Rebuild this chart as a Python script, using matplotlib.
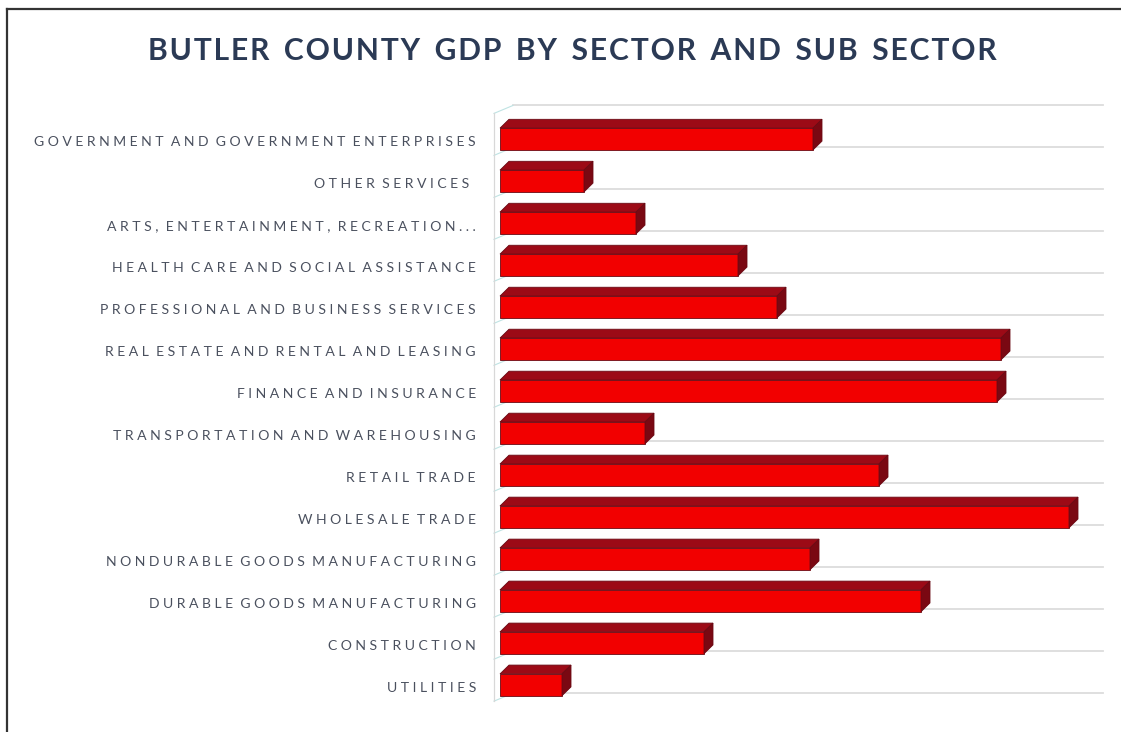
import matplotlib.pyplot as plt
from matplotlib.patches import Rectangle, Polygon
from matplotlib.lines import Line2D

# sectors listed top to bottom as in the chart
sectors = [
    "GOVERNMENT AND GOVERNMENT ENTERPRISES",
    "OTHER SERVICES ",
    "ARTS, ENTERTAINMENT, RECREATION...",
    "HEALTH CARE AND SOCIAL ASSISTANCE",
    "PROFESSIONAL AND BUSINESS SERVICES",
    "REAL ESTATE AND RENTAL AND LEASING",
    "FINANCE AND INSURANCE",
    "TRANSPORTATION AND WAREHOUSING",
    "RETAIL TRADE",
    "WHOLESALE TRADE",
    "NONDURABLE GOODS MANUFACTURING",
    "DURABLE GOODS MANUFACTURING",
    "CONSTRUCTION",
    "UTILITIES",
]
# relative GDP (no axis scale shown on the chart)
gdp = [313, 84, 136, 238, 277, 501, 497, 145, 379, 569, 310, 421, 204, 62]

TITLE = "BUTLER COUNTY GDP BY SECTOR AND SUB SECTOR"

FRONT = "#f20000"
TOP = "#9c0a16"
SIDE = "#7a0812"
EDGE = "#6a0a14"
DX, DY = 9, 0.21   # depth of the 3D look (x data units, y data units)
H = 0.52


def spaced(s, sep="\u2009", word=" "):
    # fake letter spacing: matplotlib has none
    return word.join(sep.join(w) for w in s.split(" "))


fig = plt.figure(figsize=(11.21, 7.32), dpi=100)
ax = fig.add_axes([490 / 1121, 1 - 710 / 732, 620 / 1121, 610 / 732])
ax.set_xlim(-10, 610)
ax.set_ylim(-0.6, 13.93)
ax.axis('off')

n = len(sectors)

# back-wall gridlines and floor edges
for k in range(n + 1):
    y = k - 0.2
    ax.plot([DX + 4, 603], [y, y], color="#dcdcdc", lw=1.3, zorder=1)
    ax.plot([-6, DX + 4], [y - DY * 0.9, y], color="#bfe3e3", lw=0.8, zorder=1)
ax.plot([-6, -6], [-0.2 - DY * 0.9, n - 0.2 - DY * 0.9], color="#d8d8d8", lw=0.9, zorder=1)

for i, (name, v) in enumerate(zip(sectors, gdp)):
    c = n - 1 - i
    y0, y1 = c - H / 2, c + H / 2
    ax.add_patch(Rectangle((0, y0), v, H, facecolor=FRONT, edgecolor=EDGE, lw=0.6, zorder=3))
    ax.add_patch(Polygon([(0, y1), (v, y1), (v + DX, y1 + DY), (DX, y1 + DY)],
                         closed=True, facecolor=TOP, edgecolor=EDGE, lw=0.6, zorder=3))
    ax.add_patch(Polygon([(v, y0), (v + DX, y0 + DY), (v + DX, y1 + DY), (v, y1)],
                         closed=True, facecolor=SIDE, edgecolor=EDGE, lw=0.6, zorder=3))
    ax.text(-24, c - 0.08, spaced(name, "\u2009\u2009", "  "), ha='right', va='center',
            fontsize=10.1, color="#4a505e", family=['Lato', 'DejaVu Sans'])

fig.text(572 / 1121, 1 - 51 / 732, spaced(TITLE, "\u200a", "  "), ha='center', va='center',
         fontsize=21.6, fontweight='bold', color="#2b3a55", family=['Lato', 'DejaVu Sans'])

# frame of the original picture (left and top edges only visible)
fig.add_artist(Line2D([7 / 1121, 7 / 1121], [0, 1 - 9 / 732], color="#333333", lw=1.6))
fig.add_artist(Line2D([7 / 1121, 1], [1 - 9 / 732, 1 - 9 / 732], color="#333333", lw=1.6))

fig.savefig("out.png", dpi=100, facecolor="white")
